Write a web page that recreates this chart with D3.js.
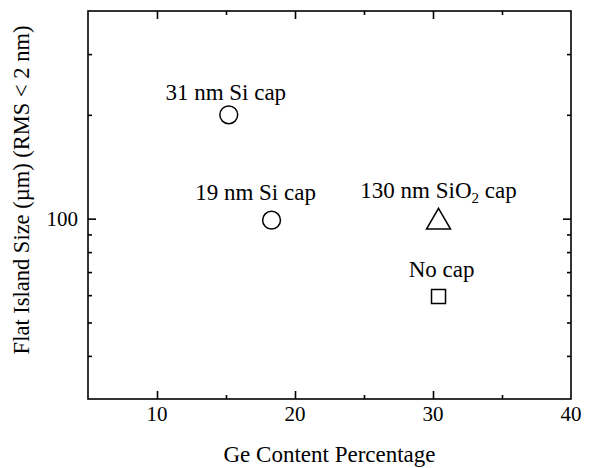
<!DOCTYPE html>
<html lang="en">
<head>
    <meta charset="UTF-8">
    <title>flat island size</title>
    <script src="https://d3js.org/d3.v7.min.js"></script>
    <style>
        body{
            margin: 0;
            background: #fff;
        }
    </style>
</head>
<body>

<svg width="590" height="468" id="main"></svg>

<script>
    // values
    let capLabels = ["31 nm Si cap", "19 nm Si cap", "130 nm SiO2 cap", "No cap"]
    let geContent = [15.2, 18.3, 30.4, 30.4]
    let islandSize = [200, 99, 99, 59.5]
    let markerShape = ["circle", "circle", "triangle", "square"]

    let xMajor = [10, 20, 30, 40]
    let xMinor = [15, 25, 35]
    let yMajor = [100]
    let yMinor = [40, 50, 60, 70, 80, 90, 200, 300]

    // label offset from its marker (px)
    let labelDx = [-3, -16, 0, 3]
    let labelDy = [-15, -20, -22, -19]

    let serif = "Liberation Serif"
    let svg = d3.select("#main")
    let pLeft = 88, pRight = 571, pTop = 11, pBottom = 399

    let x = d3.scaleLinear().domain([5, 40]).range([pLeft, pRight])
    let y = d3.scaleLog().domain([30, 400]).range([pBottom, pTop])

    // frame
    svg.append("rect")
        .attr("x", pLeft).attr("y", pTop)
        .attr("width", pRight - pLeft).attr("height", pBottom - pTop)
        .attr("fill", "none").attr("stroke", "#000").attr("stroke-width", 1.6)

    // ticks on all four sides, pointing in
    function ticks(axis, vals, len, pos) {
        axis.tickValues(vals).tickSize(-len).tickSizeOuter(0).tickFormat("")
        let g = svg.append("g").attr("transform", pos).call(axis)
        g.select(".domain").remove()
        g.selectAll("line").attr("stroke", "#000").attr("stroke-width", 1.6)
        return g
    }
    ticks(d3.axisBottom(x), xMajor.filter(d => d < 40), 8, `translate(0,${pBottom})`)
    ticks(d3.axisBottom(x), xMinor, 4, `translate(0,${pBottom})`)
    ticks(d3.axisTop(x), xMajor.filter(d => d < 40), 8, `translate(0,${pTop})`)
    ticks(d3.axisTop(x), xMinor, 4, `translate(0,${pTop})`)
    ticks(d3.axisLeft(y), yMajor, 8, `translate(${pLeft},0)`)
    ticks(d3.axisLeft(y), yMinor, 4, `translate(${pLeft},0)`)
    ticks(d3.axisRight(y), yMajor, 8, `translate(${pRight},0)`)
    ticks(d3.axisRight(y), yMinor, 4, `translate(${pRight},0)`)

    // tick labels
    svg.selectAll(".xlab").data(xMajor).join("text")
        .attr("x", d => x(d)).attr("y", pBottom + 22)
        .attr("text-anchor", "middle").attr("font-size", 21)
        .style("font-family", serif)
        .text(d => d)
    svg.selectAll(".ylab").data(yMajor).join("text")
        .attr("x", pLeft - 10).attr("y", d => y(d) + 7)
        .attr("text-anchor", "end").attr("font-size", 21)
        .style("font-family", serif)
        .text(d => d)

    // axis titles
    svg.append("text")
        .attr("x", (pLeft + pRight) / 2).attr("y", 462)
        .attr("text-anchor", "middle").attr("font-size", 23)
        .style("font-family", serif)
        .text("Ge Content Percentage")
    svg.append("text")
        .attr("transform", "translate(29,190) rotate(-90)")
        .attr("text-anchor", "middle").attr("font-size", 22.5)
        .style("font-family", serif)
        .text("Flat Island Size (\u00b5m) (RMS < 2 nm)")

    // markers
    let pts = capLabels.map((c, i) => ({label: c, gx: geContent[i], sz: islandSize[i], shape: markerShape[i], i: i}))
    let sym = {circle: d3.symbolCircle, triangle: d3.symbolTriangle, square: d3.symbolSquare}
    let symSize = {circle: 250, triangle: 250, square: 196}
    svg.selectAll(".pt").data(pts).join("path")
        .attr("transform", d => `translate(${x(d.gx)},${y(d.sz) + (d.shape === "triangle" ? 2 : 0)})`)
        .attr("d", d => d3.symbol(sym[d.shape], symSize[d.shape])())
        .attr("fill", "none").attr("stroke", "#000").attr("stroke-width", 1.5)

    // annotations
    let ann = svg.selectAll(".ann").data(pts).join("text")
        .attr("x", d => x(d.gx) + labelDx[d.i])
        .attr("y", d => y(d.sz) + labelDy[d.i])
        .attr("text-anchor", "middle").attr("font-size", 23)
        .style("font-family", serif)
    ann.each(function (d) {
        let t = d3.select(this)
        let m = d.label.match(/^(.*SiO)2(.*)$/)
        if (m) {
            t.append("tspan").text(m[1])
            t.append("tspan").attr("font-size", 15).attr("dy", 5).text("2")
            t.append("tspan").attr("dy", -5).text(m[2])
        } else {
            t.text(d.label)
        }
    })
</script>

</body>
</html>
